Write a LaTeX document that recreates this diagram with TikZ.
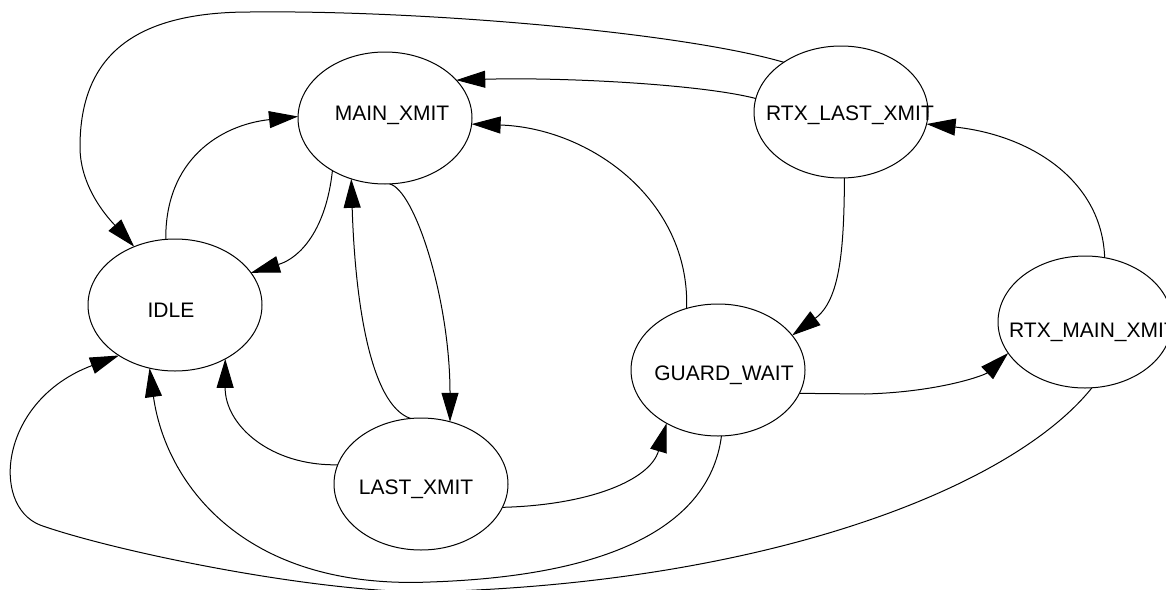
\documentclass[tikz,border=0pt]{standalone}
\usepackage{fontspec}
\setmainfont{Liberation Sans}
\usetikzlibrary{arrows.meta,shapes.geometric}

\begin{document}
\begin{tikzpicture}[x=0.5pt,y=-0.5pt,line width=0.5pt,>={Triangle[length=14.5pt,width=8.5pt]},
  font=\fontsize{10.5pt}{12pt}\selectfont,
  state/.style={draw,ellipse,minimum width=87pt,minimum height=66pt,inner sep=0pt,outer sep=0pt}]
\useasboundingbox (0,0) rectangle (1166,589);
% states
\node[state,label={[shift={(7,-3)}]center:MAIN\_XMIT}] (main) at (385,118) {};
\node[state,label={[shift={(9,3)}]center:RTX\_LAST\_XMIT}] (rtxlast) at (841,112) {};
\node[state,label={[shift={(-4,5)}]center:IDLE}] (idle) at (175,305) {};
\node[state,label={[shift={(-5,5)}]center:LAST\_XMIT}] (last) at (421,484) {};
\node[state,label={[shift={(6,5)}]center:GUARD\_WAIT}] (guard) at (718,370) {};
\node[state,label={[shift={(8,10)}]center:RTX\_MAIN\_XMIT}] (rtxmain) at (1085,322) {};
% transitions
\draw[->] (rtxlast.139) .. controls (680,32) and (420,10) .. (250,12)
  .. controls (135,12) and (80,55) .. (80,147)
  .. controls (80,190) and (112,222) .. (idle.125);
\draw[->] (rtxlast.171) .. controls (700,84) and (560,77) .. (main.28);
\draw[->] (rtxmain.73) .. controls (1102,180) and (1030,135) .. (rtxlast.-8);
\draw[->] (idle.98) .. controls (165,160) and (220,125) .. (main.179);
\draw[->] (main.-135) .. controls (326,230) and (300,258) .. (idle.23);
\draw[->] (last.99) .. controls (370,405) and (355,300) .. (main.-119);
\draw[->] (main.-86) .. controls (415,190) and (450,300) .. (last.65);
\draw[->] (last.167) .. controls (270,466) and (225,425) .. (idle.-47);
\draw[->] (last.-16) .. controls (590,505) and (650,480) .. (guard.-134);
\draw[->] (guard.117) .. controls (690,200) and (590,128) .. (main.-4);
\draw[->] (rtxlast.-87) .. controls (844,250) and (840,300) .. (guard.25);
\draw[->] (guard.-16) -- (865,394) .. controls (940,392) and (985,375) .. (rtxmain.-158);
\draw[->] (guard.-87) .. controls (712,510) and (640,575) .. (430,582)
  .. controls (240,590) and (165,480) .. (idle.-112);
\draw[->] (rtxmain.-84) .. controls (1010,490) and (760,585) .. (420,592)
  .. controls (300,590) and (110,550) .. (40,525)
  .. controls (-10,505) and (0,400) .. (idle.-138);
\end{tikzpicture}
\end{document}
